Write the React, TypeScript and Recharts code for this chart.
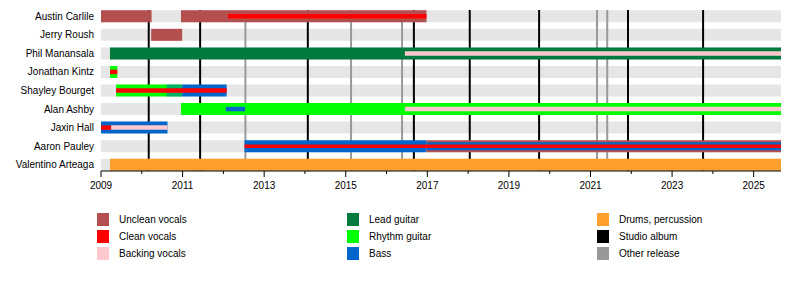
import React from 'react';
import { ComposedChart, XAxis, YAxis, ReferenceArea, ReferenceLine, Legend, Scatter } from 'recharts';

// ---------- data ----------
const members = [
  'Austin Carlile',
  'Jerry Roush',
  'Phil Manansala',
  'Jonathan Kintz',
  'Shayley Bourget',
  'Alan Ashby',
  'Jaxin Hall',
  'Aaron Pauley',
  'Valentino Arteaga',
];

const timelineStart = 2009;
const timelineEnd = 2025.67;

const roles = [
  'Unclean vocals',
  'Clean vocals',
  'Backing vocals',
  'Lead guitar',
  'Rhythm guitar',
  'Bass',
  'Drums, percussion',
];

// [member, role, from, till]
const tenures: Array<[string, string, number, number]> = [
  ['Austin Carlile', 'Unclean vocals', 2009.0, 2010.24],
  ['Austin Carlile', 'Unclean vocals', 2010.96, 2016.98],
  ['Austin Carlile', 'Clean vocals', 2012.12, 2016.98],
  ['Jerry Roush', 'Unclean vocals', 2010.23, 2010.99],
  ['Phil Manansala', 'Lead guitar', 2009.22, 2025.67],
  ['Phil Manansala', 'Backing vocals', 2016.45, 2025.67],
  ['Jonathan Kintz', 'Rhythm guitar', 2009.22, 2009.4],
  ['Jonathan Kintz', 'Clean vocals', 2009.22, 2009.4],
  ['Shayley Bourget', 'Rhythm guitar', 2009.37, 2010.99],
  ['Shayley Bourget', 'Bass', 2010.61, 2012.08],
  ['Shayley Bourget', 'Clean vocals', 2009.37, 2012.08],
  ['Alan Ashby', 'Rhythm guitar', 2010.96, 2025.67],
  ['Alan Ashby', 'Bass', 2012.06, 2012.53],
  ['Alan Ashby', 'Backing vocals', 2016.45, 2025.67],
  ['Jaxin Hall', 'Bass', 2009.0, 2010.63],
  ['Jaxin Hall', 'Clean vocals', 2009.0, 2009.25],
  ['Jaxin Hall', 'Backing vocals', 2009.25, 2010.63],
  ['Aaron Pauley', 'Bass', 2012.52, 2016.98],
  ['Aaron Pauley', 'Unclean vocals', 2016.98, 2025.67],
  ['Aaron Pauley', 'Bass', 2016.98, 2025.67],
  ['Aaron Pauley', 'Clean vocals', 2012.52, 2025.67],
  ['Valentino Arteaga', 'Drums, percussion', 2009.22, 2025.67],
];

const studioAlbums = [2010.17, 2011.43, 2014.07, 2016.67, 2018.04, 2019.74, 2021.92, 2023.76];
const otherReleases = [2012.54, 2015.13, 2016.38, 2021.16, 2021.41];

const yearTicks = [2009, 2010, 2011, 2012, 2013, 2014, 2015, 2016, 2017, 2018, 2019, 2020, 2021, 2022, 2023, 2024, 2025];

// ---------- styles ----------
const roleColors: Record<string, string> = {
  'Unclean vocals': '#b44f4f',
  'Clean vocals': '#ff0000',
  'Backing vocals': '#ffc8cc',
  'Lead guitar': '#007a3d',
  'Rhythm guitar': '#00ff00',
  'Bass': '#0066cc',
  'Drums, percussion': '#ffa02e',
};
const studioColor = '#000000';
const otherColor = '#999999';
const rowBg = '#e6e6e6';
const FONT = '"Liberation Sans", Arial, Helvetica, sans-serif';

const CHART_W = 800;
const CHART_H = 290;
const MARGIN = { top: 10, right: 19, bottom: 89, left: 0 };
const XAXIS_H = 30;
const PLOT_H = CHART_H - MARGIN.top - MARGIN.bottom - XAXIS_H;
const PAD = 0.337;
const UNIT = PLOT_H / (members.length - 1 + 2 * PAD); // px per row unit

// ---------- layering (which bars sit inside others) ----------
type Seg = { member: string; row: number; role: string; from: number; to: number; level: number };
const EPS = 1e-6;
const segs: Seg[] = [];
tenures.forEach(([member, role, from, to]) => {
  const earlier = segs.filter((s) => s.member === member);
  const overlapping = earlier.filter((s) => s.from < to - EPS && s.to > from + EPS);
  const sorted = [...earlier].sort((a, b) => a.from - b.from);
  let pos = from;
  let changed = true;
  while (changed) {
    changed = false;
    for (const s of sorted) {
      if (s.from <= pos + EPS && s.to > pos + EPS) {
        pos = s.to;
        changed = true;
      }
    }
  }
  const covered = pos >= to - EPS;
  const level = covered ? 1 + Math.max(...overlapping.map((s) => s.level)) : 0;
  segs.push({ member, row: members.indexOf(member), role, from, to, level });
});
const rowMaxLevel = members.map((m) => Math.max(0, ...segs.filter((s) => s.member === m).map((s) => s.level)));
const sizeFor = (row: number, level: number) => {
  const sizes = rowMaxLevel[row] >= 2 ? [12, 8, 3.5] : [12, 4.5];
  return sizes[Math.min(level, sizes.length - 1)];
};

type Piece = { key: string; row: number; from: number; to: number; size: number; color: string; opacity: number; level: number };
const pieces: Piece[] = [];
segs.forEach((s, i) => {
  const size = sizeFor(s.row, s.level);
  const color = roleColors[s.role];
  if (s.level === 0) {
    const prev = segs.slice(0, i).filter((p) => p.member === s.member && p.level === 0 && p.from < s.to - EPS && p.to > s.from + EPS);
    if (prev.length) {
      const oFrom = Math.max(s.from, ...prev.map((p) => p.from));
      const oTo = Math.min(s.to, ...prev.map((p) => p.to));
      if (s.from < oFrom - EPS) pieces.push({ key: `p${i}a`, row: s.row, from: s.from, to: oFrom, size, color, opacity: 1, level: 0 });
      pieces.push({ key: `p${i}b`, row: s.row, from: oFrom, to: oTo, size, color, opacity: 0.5, level: 0 });
      if (oTo < s.to - EPS) pieces.push({ key: `p${i}c`, row: s.row, from: oTo, to: s.to, size, color, opacity: 1, level: 0 });
      return;
    }
  }
  pieces.push({ key: `p${i}`, row: s.row, from: s.from, to: s.to, size, color, opacity: 1, level: s.level });
});
pieces.sort((a, b) => a.level - b.level);

// ---------- ticks ----------
const XTick = (props: any) => {
  const { x, y, payload } = props;
  const major = payload.value % 2 === 1;
  return (
    <g>
      <line x1={x} x2={x} y1={y} y2={y + (major ? 6 : 3)} stroke="#000" strokeWidth={1} />
      {major && (
        <text x={x} y={y + 10.5} dy="0.71em" textAnchor="middle" fontSize={10} fill="#000" fontFamily={FONT}>
          {payload.value}
        </text>
      )}
    </g>
  );
};

const YTick = (props: any) => {
  const { x, y, payload } = props;
  return (
    <text x={x} y={y} dy="0.355em" textAnchor="end" fontSize={10} fill="#000" fontFamily={FONT}>
      {members[payload.value] ?? ''}
    </text>
  );
};

const legendItems = [
  ...roles.map((r) => ({ label: r, color: roleColors[r] })),
  { label: 'Studio album', color: studioColor },
  { label: 'Other release', color: otherColor },
];

const LegendContent = () => (
  <div style={{ position: 'relative', width: CHART_W, height: 60, fontFamily: FONT, fontSize: 10, color: '#000' }}>
    {legendItems.map((it, i) => {
      const col = Math.floor(i / 3);
      const row = i % 3;
      const left = 97 + col * 250;
      const top = row * 17;
      return (
        <div key={it.label} style={{ position: 'absolute', left, top, height: 13, display: 'flex', alignItems: 'center', whiteSpace: 'nowrap' }}>
          <div style={{ width: 12, height: 13, background: it.color }} />
          <span style={{ marginLeft: 10, lineHeight: '13px' }}>{it.label}</span>
        </div>
      );
    })}
  </div>
);

const anchorPoints = members.map((m, i) => ({ x: timelineStart, y: i }));

export default function App() {
  return (
    <div style={{ position: 'absolute', left: 0, top: 0, width: CHART_W, height: CHART_H, background: '#fff' }}>
      <ComposedChart width={CHART_W} height={CHART_H} margin={MARGIN}>
        <XAxis
          type="number"
          dataKey="x"
          domain={[timelineStart, timelineEnd]}
          ticks={yearTicks}
          interval={0}
          allowDataOverflow
          height={XAXIS_H}
          tickLine={false}
          tickSize={0}
          tickMargin={0}
          axisLine={{ stroke: '#000', strokeWidth: 1 }}
          tick={<XTick />}
        />
        <YAxis
          type="number"
          dataKey="y"
          domain={[-PAD, members.length - 1 + PAD]}
          reversed
          ticks={members.map((_, i) => i)}
          interval={0}
          allowDataOverflow
          width={101}
          axisLine={false}
          tickLine={false}
          tickSize={5}
          tickMargin={2}
          tick={<YTick />}
        />
        {members.map((m, i) => (
          <ReferenceArea
            key={`bg-${m}`}
            x1={timelineStart}
            x2={timelineEnd}
            y1={i - 6 / UNIT}
            y2={i + 6 / UNIT}
            fill={rowBg}
            fillOpacity={1}
            stroke="none"
            ifOverflow="visible"
            zIndex={10}
          />
        ))}
        {otherReleases.map((d) => (
          <ReferenceLine key={`o-${d}`} x={d} stroke={otherColor} strokeWidth={2} ifOverflow="visible" zIndex={20} />
        ))}
        {studioAlbums.map((d) => (
          <ReferenceLine key={`s-${d}`} x={d} stroke={studioColor} strokeWidth={2} ifOverflow="visible" zIndex={20} />
        ))}
        {pieces.map((p) => (
          <ReferenceArea
            key={p.key}
            x1={p.from}
            x2={p.to}
            y1={p.row - p.size / 2 / UNIT}
            y2={p.row + p.size / 2 / UNIT}
            fill={p.color}
            fillOpacity={p.opacity}
            stroke="none"
            ifOverflow="visible"
            zIndex={30 + p.level}
          />
        ))}
        <Scatter data={anchorPoints} dataKey="y" shape={() => <g />} isAnimationActive={false} legendType="none" />
        <Legend
          layout="horizontal"
          verticalAlign="middle"
          align="center"
          content={<LegendContent />}
          wrapperStyle={{ position: 'absolute', left: 0, top: 213, width: CHART_W, height: 60 }}
        />
      </ComposedChart>
    </div>
  );
}
